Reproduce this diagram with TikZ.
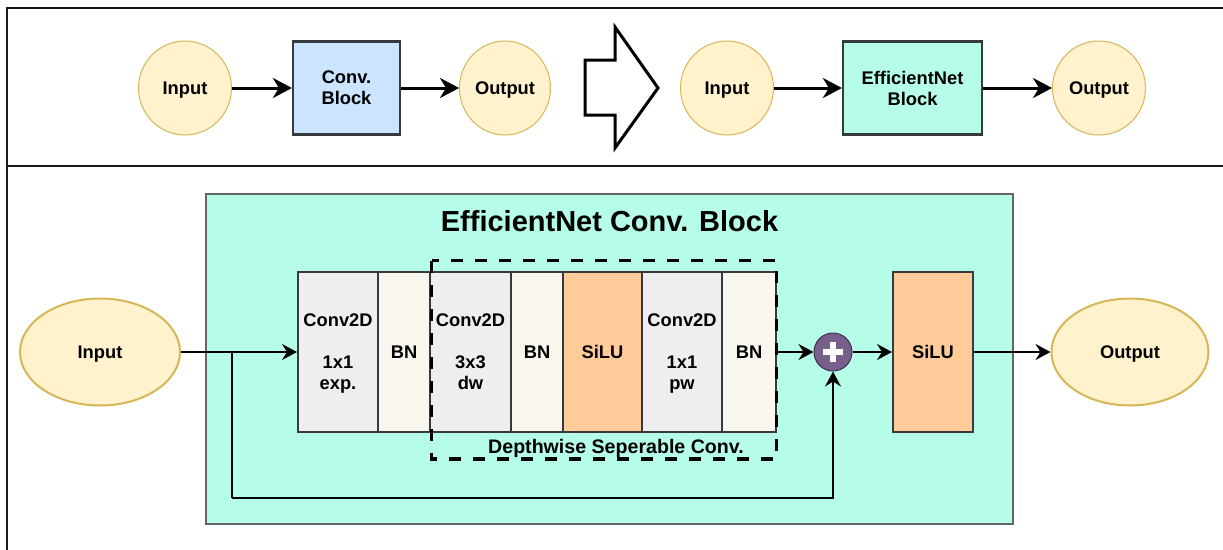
\documentclass[tikz,border=0pt]{standalone}
\usepackage{fontspec}
\setmainfont{Liberation Sans}
\usetikzlibrary{arrows.meta,shapes.geometric}

\definecolor{ellfill}{HTML}{FFF2CC}
\definecolor{elldraw}{HTML}{D6B656}
\definecolor{blkdraw}{HTML}{36393D}
\definecolor{blue}{HTML}{CCE5FF}
\definecolor{mint}{HTML}{B5FDE9}
\definecolor{convgrey}{HTML}{EEEEEE}
\definecolor{bnfill}{HTML}{F9F7ED}
\definecolor{siluorange}{HTML}{FFCC99}
\definecolor{sumfill}{HTML}{76608A}
\definecolor{sumdraw}{HTML}{432D57}
\definecolor{framegrey}{HTML}{1A1A1A}

\tikzset{
  lbl/.style={font=\bfseries\fontsize{18.3}{21}\selectfont, align=center, text=black,
              text depth=0pt},
  ell/.style={lbl, ellipse, draw=elldraw, fill=ellfill, inner sep=0pt},
  topblk/.style={lbl, rectangle, draw=blkdraw, line width=2.2pt, inner sep=0pt,
                 minimum height=93pt, text depth=-5pt},
  layer/.style={lbl, rectangle, draw=blkdraw, line width=2pt, inner sep=0pt,
                minimum height=160pt},
  stack/.style={text depth=-8pt},
  bigflow/.style={line width=3pt, -{Stealth[length=19pt,width=20pt,inset=6pt]}},
  flow/.style={line width=2pt, -{Stealth[length=15pt,width=16pt,inset=5pt]}},
  link/.style={line width=2pt},
}

\begin{document}
\begin{tikzpicture}[x=1pt,y=-1pt]
\useasboundingbox (0,0) rectangle (1223,549);

% frame of the two panels
\draw[framegrey, line width=2.6pt] (1230,8) -- (7,8) -- (7,560);
\draw[framegrey, line width=2.6pt] (7,166) -- (1230,166);

% ---------- upper panel: plain block vs EfficientNet block ----------
\node[ell, line width=1pt, minimum width=93pt, minimum height=94pt] (tin1) at (185,88) {Input};
\node[topblk, fill=blue, minimum width=107pt] (tblk1) at (346.5,88) {Conv.\\Block};
\node[ell, line width=1pt, minimum width=91pt, minimum height=94pt] (tout1) at (505,88) {Output};
\draw[bigflow] (tin1) -- (tblk1);
\draw[bigflow] (tblk1) -- (tout1);

% hollow block arrow between the two variants
\draw[black, line width=3pt, fill=white, line join=miter]
  (585,60) -- (615,60) -- (615,27) -- (658,88) -- (615,148) -- (615,115) -- (585,115) -- cycle;

\node[ell, line width=1pt, minimum width=93pt, minimum height=94pt] (tin2) at (727,88) {Input};
\node[topblk, fill=mint, minimum width=139pt] (tblk2) at (912.5,88) {EfficientNet\\Block};
\node[ell, line width=1pt, minimum width=93pt, minimum height=94pt] (tout2) at (1099,88) {Output};
\draw[bigflow] (tin2) -- (tblk2);
\draw[bigflow] (tblk2) -- (tout2);

% ---------- lower panel: inside the EfficientNet block ----------
\node[draw=black!60, line width=1.4pt, fill=mint, minimum width=807pt, minimum height=330pt,
      inner sep=0pt] (block) at (609.5,359) {};
\node[font=\bfseries\fontsize{29}{33}\selectfont] (title) at (609.5,221) {EfficientNet Conv. Block};

\node[ell, line width=2pt, minimum width=160pt, minimum height=107pt] (in) at (100,352) {Input};
\node[ell, line width=2pt, minimum width=157pt, minimum height=107pt] (out) at (1130,352) {Output};

\node[layer, stack, fill=convgrey, minimum width=80pt] (c1) at (338,352) {Conv2D\\[21pt]1x1\\exp.};
\node[layer, fill=bnfill, minimum width=52pt] (b1) at (404,352) {BN};
\node[layer, stack, fill=convgrey, minimum width=81pt] (c2) at (470.5,352) {Conv2D\\[21pt]3x3\\dw};
\node[layer, fill=bnfill, minimum width=52pt] (b2) at (537,352) {BN};
\node[layer, fill=siluorange, minimum width=79pt] (s1) at (602.5,352) {SiLU};
\node[layer, stack, fill=convgrey, minimum width=80pt] (c3) at (682,352) {Conv2D\\[21pt]1x1\\pw};
\node[layer, fill=bnfill, minimum width=54pt] (b3) at (749,352) {BN};
\node[layer, fill=siluorange, minimum width=80pt] (s2) at (933,352) {SiLU};

% depthwise separable group
\draw[black, line width=3.6pt, dash pattern=on 12pt off 12pt] (431.5,260.5) rectangle (776.5,459);
\node[lbl, font=\bfseries\fontsize{19.6}{22}\selectfont] (dwlabel) at (616,446) {Depthwise Seperable Conv.};

% residual sum
\node[circle, draw=sumdraw, line width=1pt, fill=sumfill, minimum size=38pt, inner sep=0pt] (sum) at (833,352) {};
\fill[white] ([xshift=-10pt,yshift=-3.3pt]sum.center) rectangle ([xshift=10pt,yshift=3.3pt]sum.center);
\fill[white] ([xshift=-3.3pt,yshift=-10pt]sum.center) rectangle ([xshift=3.3pt,yshift=10pt]sum.center);

% connectors
\coordinate (split) at (232,352);
\coordinate (skipdown) at (232,498);
\draw[flow] (in) -- (c1);
\draw[link] (split) -- (skipdown);
\draw[flow] (skipdown) -| (sum.south);
\draw[flow] (b3) -- (sum);
\draw[flow] (sum) -- (s2);
\draw[flow] (s2) -- (out);
\end{tikzpicture}
\end{document}
